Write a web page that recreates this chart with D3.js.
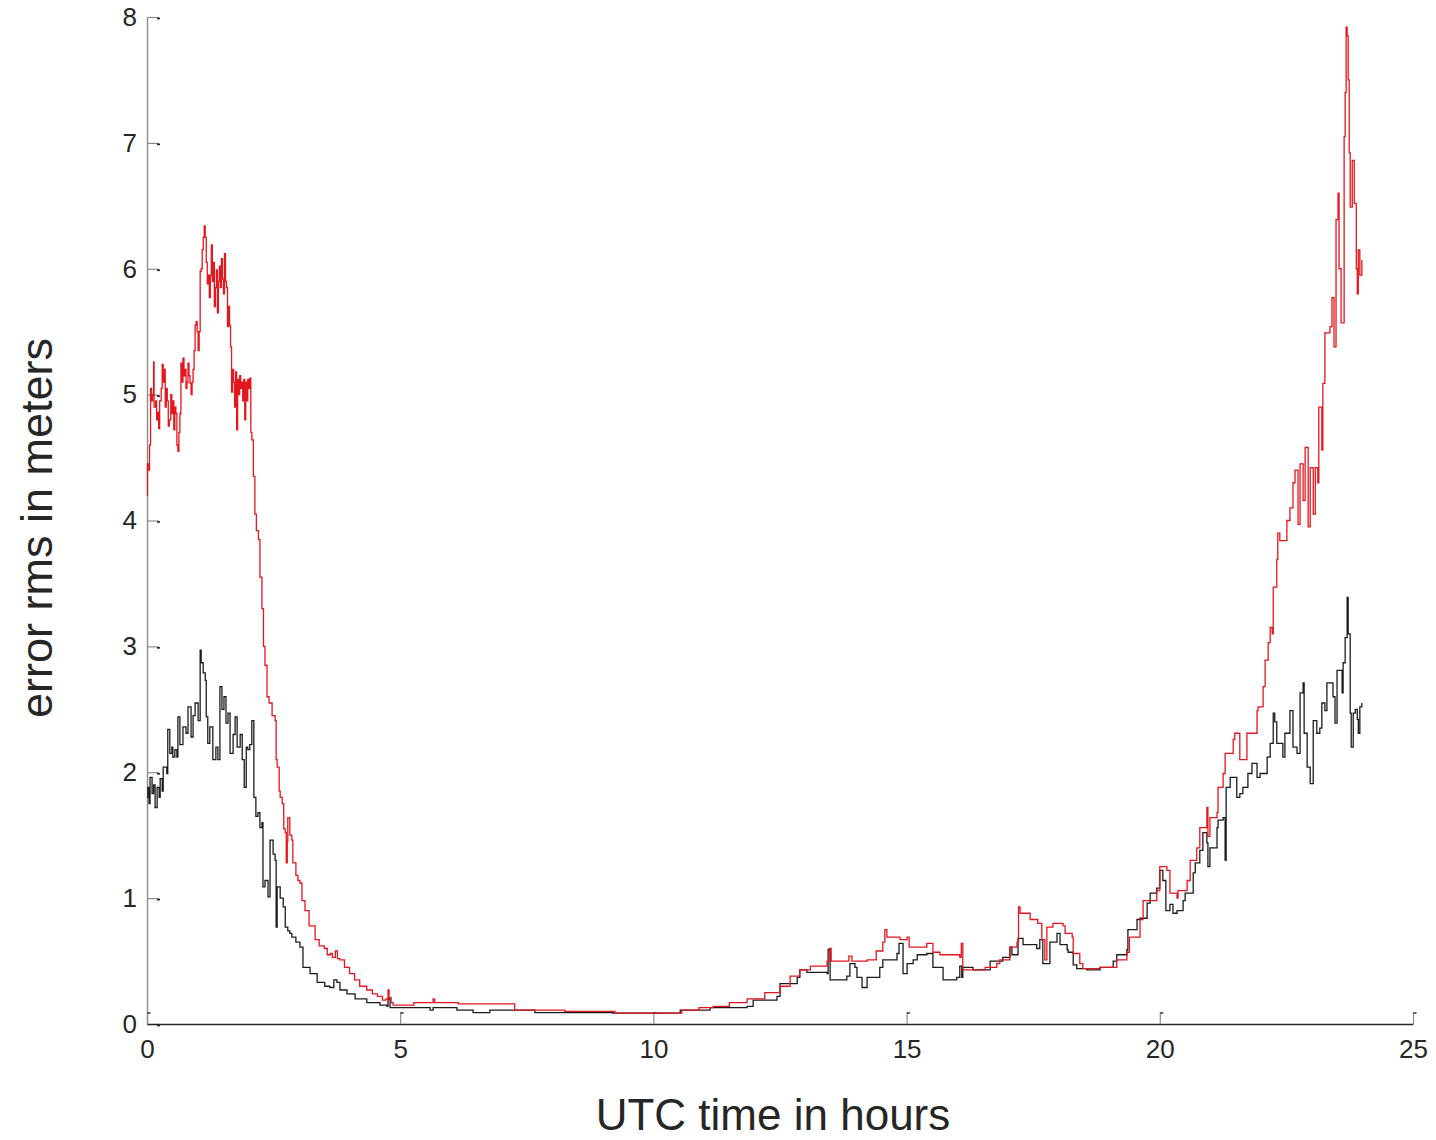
<!DOCTYPE html>
<html>
<head>
<meta charset="utf-8">
<script src="https://cdn.jsdelivr.net/npm/d3@7"></script>
<style>
  html, body { margin: 0; padding: 0; background: #fff; }
  svg { display: block; font-family: "Liberation Sans", Arial, sans-serif; }
</style>
</head>
<body>
<script>
// Axis tick values
const xTicks = [0, 5, 10, 15, 20, 25];
const yTicks = [0, 1, 2, 3, 4, 5, 6, 7, 8];

// Red series: UTC hour and rms error (m)
const hoursRed = [
  0.00,0.01,0.03,0.05,0.07,0.09,0.11,0.13,0.14,0.17,0.19,0.21,0.23,0.25,0.28,0.30,0.32,0.34,0.36,0.38,
  0.40,0.42,0.44,0.47,0.49,0.51,0.53,0.55,0.57,0.59,0.61,0.63,0.65,0.67,0.69,0.71,0.73,0.75,0.77,0.79,
  0.81,0.83,0.85,0.87,0.89,0.91,0.93,0.95,0.97,0.99,1.01,1.03,1.05,1.07,1.09,1.11,1.13,1.15,1.17,1.19,
  1.21,1.23,1.25,1.27,1.29,1.31,1.33,1.35,1.37,1.39,1.41,1.43,1.45,1.47,1.49,1.51,1.53,1.55,1.57,1.59,
  1.61,1.63,1.65,1.67,1.69,1.71,1.73,1.75,1.77,1.79,1.81,1.83,1.85,1.87,1.89,1.91,1.93,1.95,1.97,1.99,
  2.01,2.03,2.05,2.07,2.10,2.13,2.16,2.20,2.23,2.27,2.30,2.33,2.37,2.41,2.47,2.53,2.55,2.57,2.61,2.63,
  2.67,2.70,2.73,2.75,2.77,2.78,2.82,2.86,2.88,2.94,2.98,3.02,3.06,3.12,3.20,3.32,3.40,3.50,3.56,3.62,
  3.66,3.72,3.76,3.81,3.90,4.00,4.10,4.20,4.34,4.45,4.55,4.65,4.72,4.76,4.78,4.82,4.86,5.25,5.27,5.62,
  5.65,5.68,6.12,6.15,7.23,7.26,8.21,8.25,9.20,9.24,10.53,10.56,10.90,11.18,11.50,11.85,12.20,12.50,12.70,12.89,
  13.10,13.43,13.47,13.51,13.82,13.86,13.92,14.22,14.40,14.53,14.57,14.61,14.87,15.01,15.05,15.26,15.40,15.52,15.66,16.05,
  16.08,16.11,16.31,16.55,16.78,16.84,17.04,17.18,17.21,17.24,17.44,17.59,17.67,17.73,17.77,17.89,18.09,18.13,18.27,18.29,
  18.42,18.48,18.82,19.15,19.35,19.40,19.61,19.67,19.94,20.00,20.06,20.14,20.20,20.34,20.36,20.54,20.60,20.73,20.79,20.93,
  20.95,20.99,21.13,21.15,21.25,21.29,21.45,21.48,21.58,21.68,21.72,21.92,21.94,22.04,22.08,22.14,22.18,22.22,22.24,22.31,
  22.33,22.37,22.51,22.57,22.63,22.67,22.73,22.77,22.83,22.87,22.93,22.97,23.03,23.07,23.12,23.14,23.20,23.22,23.26,23.36,
  23.40,23.44,23.48,23.52,23.54,23.58,23.62,23.64,23.66,23.68,23.70,23.72,23.74,23.76,23.80,23.84,23.88,23.90,23.92,23.95,
  23.99
];
const rmsRed = [
  4.20,4.45,4.40,4.60,5.05,4.95,5.00,5.26,4.90,4.95,4.80,4.86,4.73,4.95,5.05,5.24,5.10,5.20,4.90,5.05,
  4.95,4.75,4.80,5.00,4.85,4.95,4.72,4.90,4.85,4.60,4.55,4.70,4.85,5.25,5.10,5.29,5.15,5.20,5.05,5.10,
  5.25,5.15,5.09,5.00,5.10,5.20,5.35,5.55,5.58,5.50,5.35,5.50,5.98,6.00,6.15,6.25,6.34,6.25,6.05,5.88,
  5.95,5.77,5.95,6.19,5.90,6.05,5.70,5.85,5.99,5.65,5.90,6.02,5.85,6.08,5.92,5.80,6.12,5.90,5.85,5.54,
  5.70,5.55,5.38,5.02,5.20,5.10,4.90,5.18,4.72,5.12,5.00,5.15,5.05,5.10,4.95,5.12,4.80,5.10,4.95,5.12,
  5.05,5.13,4.70,4.64,4.35,4.05,3.92,3.85,3.55,3.30,3.00,2.85,2.60,2.55,2.45,2.41,2.10,2.04,1.85,1.80,
  1.75,1.55,1.52,1.28,1.45,1.64,1.50,1.46,1.28,1.18,1.14,1.12,0.98,0.90,0.78,0.67,0.62,0.60,0.55,0.56,
  0.53,0.58,0.52,0.51,0.45,0.40,0.35,0.30,0.27,0.24,0.22,0.19,0.20,0.27,0.21,0.17,0.15,0.15,0.17,0.17,
  0.20,0.17,0.17,0.16,0.16,0.11,0.11,0.10,0.10,0.087,0.087,0.11,0.13,0.14,0.17,0.20,0.25,0.30,0.38,0.43,
  0.46,0.50,0.60,0.50,0.50,0.54,0.50,0.51,0.58,0.65,0.75,0.69,0.67,0.69,0.61,0.61,0.64,0.57,0.55,0.53,
  0.64,0.43,0.43,0.45,0.48,0.51,0.61,0.65,0.93,0.88,0.83,0.80,0.67,0.51,0.77,0.80,0.78,0.72,0.69,0.56,
  0.48,0.44,0.45,0.51,0.57,0.69,0.83,0.98,1.06,1.25,1.25,1.22,1.04,1.00,1.06,1.14,1.30,1.40,1.56,1.72,
  1.49,1.64,1.68,1.88,1.99,2.15,2.26,2.31,2.10,2.10,2.31,2.49,2.52,2.68,2.89,3.03,3.15,3.10,3.47,3.69,
  3.90,3.84,4.00,4.10,4.30,4.40,3.97,4.45,4.16,4.58,3.95,4.42,4.05,4.42,4.30,4.90,4.56,5.09,5.49,5.54,
  5.77,5.38,6.39,6.60,6.00,5.57,5.57,7.05,7.40,7.92,7.85,7.50,6.92,6.49,6.86,6.52,6.00,5.80,6.15,5.95,
  6.07
];

// Black series: UTC hour and rms error (m)
const hoursBlack = [
  0.00,0.02,0.04,0.06,0.10,0.13,0.16,0.20,0.24,0.26,0.30,0.32,0.39,0.41,0.45,0.49,0.51,0.55,0.59,0.61,
  0.65,0.71,0.77,0.81,0.87,0.91,0.95,1.01,1.05,1.07,1.11,1.15,1.17,1.20,1.24,1.30,1.36,1.40,1.44,1.48,
  1.52,1.56,1.60,1.64,1.70,1.74,1.78,1.84,1.88,1.92,1.96,1.99,2.03,2.07,2.11,2.15,2.19,2.23,2.27,2.29,
  2.33,2.39,2.43,2.49,2.53,2.55,2.57,2.63,2.69,2.73,2.78,2.82,2.86,2.94,3.02,3.08,3.22,3.36,3.51,3.61,
  3.69,3.75,3.81,3.95,4.11,4.34,4.60,4.74,4.76,4.80,5.53,5.59,5.65,5.98,6.12,6.44,6.77,7.56,7.66,9.20,
  9.99,10.53,11.12,11.85,11.97,12.44,12.50,12.84,12.89,13.03,13.43,13.45,13.49,13.82,13.88,13.98,14.02,14.12,14.22,14.47,
  14.53,14.81,14.85,14.91,14.93,15.01,15.13,15.21,15.40,15.52,15.72,15.99,16.05,16.09,16.11,16.31,16.65,16.90,17.04,17.08,
  17.20,17.30,17.57,17.63,17.69,17.77,17.83,17.97,18.03,18.17,18.19,18.29,18.36,18.56,18.82,19.08,19.15,19.35,19.37,19.55,
  19.61,19.75,19.81,19.94,20.00,20.06,20.12,20.20,20.26,20.34,20.46,20.50,20.66,20.70,20.79,20.85,20.93,20.95,20.99,21.13,
  21.15,21.25,21.29,21.31,21.39,21.48,21.52,21.58,21.64,21.74,21.82,21.92,21.98,22.12,22.18,22.24,22.27,22.31,22.43,22.47,
  22.57,22.63,22.71,22.77,22.83,22.85,22.91,22.97,23.03,23.10,23.16,23.20,23.26,23.30,23.42,23.46,23.50,23.60,23.62,23.66,
  23.70,23.72,23.76,23.78,23.82,23.86,23.90,23.92,23.95,23.99
];
const rmsBlack = [
  1.80,1.88,1.75,1.96,1.83,1.90,1.72,1.88,1.80,1.95,1.85,2.04,1.99,2.34,2.15,2.20,2.12,2.18,2.12,2.44,
  2.22,2.36,2.31,2.52,2.28,2.45,2.55,2.41,2.97,2.87,2.79,2.73,2.44,2.23,2.36,2.10,2.20,2.10,2.68,2.50,
  2.60,2.39,2.47,2.15,2.30,2.44,2.20,2.30,2.10,1.88,2.20,2.18,2.22,2.41,1.80,1.65,1.68,1.56,1.60,1.09,
  1.14,1.01,1.46,1.35,1.30,0.77,1.09,1.00,0.93,0.77,0.74,0.72,0.69,0.65,0.61,0.45,0.40,0.33,0.30,0.29,
  0.35,0.33,0.27,0.24,0.20,0.17,0.15,0.14,0.20,0.13,0.13,0.11,0.13,0.13,0.11,0.09,0.11,0.11,0.09,0.087,
  0.087,0.11,0.13,0.14,0.19,0.22,0.32,0.37,0.43,0.41,0.40,0.59,0.35,0.38,0.48,0.45,0.37,0.29,0.37,0.45,
  0.51,0.56,0.64,0.64,0.40,0.48,0.51,0.55,0.56,0.45,0.35,0.37,0.46,0.37,0.45,0.43,0.50,0.53,0.61,0.55,
  0.68,0.63,0.60,0.67,0.48,0.48,0.65,0.72,0.63,0.59,0.57,0.47,0.44,0.43,0.45,0.50,0.55,0.59,0.75,0.83,
  0.84,0.96,1.04,1.08,1.22,1.14,0.90,0.95,0.88,0.90,0.98,1.04,1.20,1.28,1.38,1.52,1.44,1.25,1.40,1.56,
  1.62,1.64,1.30,1.88,1.96,1.96,1.80,1.83,1.88,1.99,2.07,1.96,1.99,2.12,2.23,2.47,2.40,2.23,2.12,2.31,
  2.49,2.20,2.15,2.63,2.71,2.31,2.04,1.91,2.41,2.31,2.35,2.55,2.49,2.71,2.60,2.39,2.81,2.63,2.87,3.07,
  3.39,3.10,2.47,2.20,2.47,2.50,2.42,2.31,2.52,2.55
];

const W = 1436, H = 1140;
const svg = d3.select("body").append("svg").attr("width", W).attr("height", H);

const x = d3.scaleLinear().domain([0, 25]).range([147, 1413]);
const y = d3.scaleLinear().domain([0, 8]).range([1024, 17]);

// Axes: ticks point inward, MATLAB style
const yAxis = svg.append("g")
  .attr("transform", `translate(${x(0)},0)`)
  .call(d3.axisLeft(y).tickValues(yTicks).tickSize(-12).tickSizeOuter(0).tickPadding(10).tickFormat(d => d));
yAxis.select(".domain").attr("stroke", "#8a8a8a").attr("stroke-width", 1.4);
yAxis.selectAll(".tick line").attr("stroke", "#8a8a8a").attr("stroke-width", 1.2);
yAxis.selectAll(".tick").append("line")
  .attr("x1", 10).attr("x2", 13).attr("y1", 1).attr("y2", 1)
  .attr("stroke", "#222").attr("stroke-width", 1.6);
yAxis.selectAll(".tick text").attr("font-size", 26).attr("fill", "#262626");

const xAxis = svg.append("g")
  .attr("transform", `translate(0,${y(0)})`)
  .call(d3.axisBottom(x).tickValues(xTicks).tickSize(-12).tickSizeOuter(0).tickPadding(16).tickFormat(d => d));
xAxis.select(".domain").attr("stroke", "#262626").attr("stroke-width", 1.4);
xAxis.selectAll(".tick line").attr("stroke", "#8a8a8a").attr("stroke-width", 1.2);
xAxis.selectAll(".tick").append("line")
  .attr("x1", 0).attr("x2", 3).attr("y1", -11).attr("y2", -11)
  .attr("stroke", "#222").attr("stroke-width", 1.4);
xAxis.selectAll(".tick text").attr("font-size", 26).attr("fill", "#262626");

// Series lines, drawn as staircases between samples
const line = d3.line().curve(d3.curveStepAfter).x(d => x(d[0])).y(d => y(d[1]));
const black = hoursBlack.map((h, i) => [h, rmsBlack[i]]);
const red = hoursRed.map((h, i) => [h, rmsRed[i]]);

svg.append("path").datum(black)
  .attr("fill", "none").attr("stroke", "#1c1c1c").attr("stroke-width", 1.3)
  .attr("d", line);
svg.append("path").datum(red)
  .attr("fill", "none").attr("stroke", "#e5161e").attr("stroke-width", 1.3)
  .attr("d", line);

// Axis titles
svg.append("text")
  .attr("x", 773).attr("y", 1130)
  .attr("text-anchor", "middle").attr("font-size", 44).attr("fill", "#262626")
  .text("UTC time in hours");
svg.append("text")
  .attr("transform", "translate(52,528) rotate(-90)")
  .attr("text-anchor", "middle").attr("font-size", 45).attr("fill", "#262626")
  .text("error rms in meters");
</script>
</body>
</html>
